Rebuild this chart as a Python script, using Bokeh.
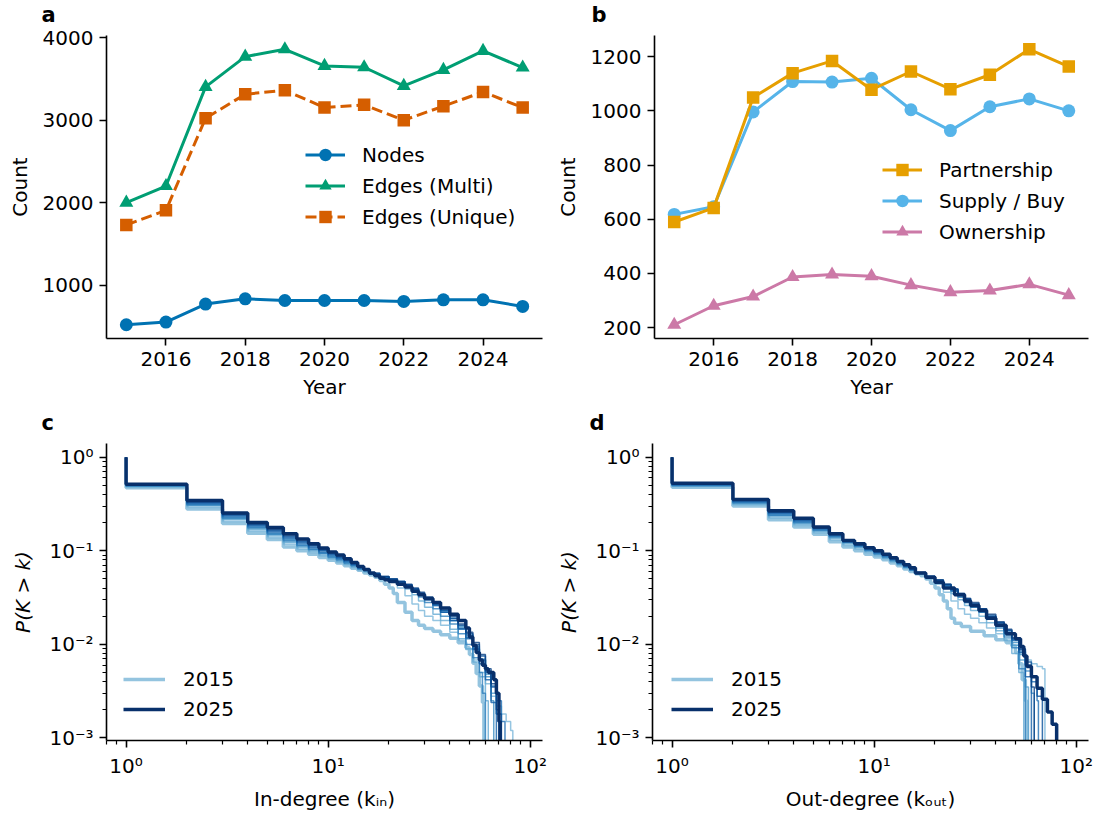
from bokeh.plotting import figure
from bokeh.models import Range1d, FixedTicker, Legend, LegendItem, Title
from bokeh.layouts import column, row
from bokeh.embed import file_html
from bokeh.resources import INLINE

FONT = "DejaVu Sans"

# ---------------- data: panels a, b ----------------
YEARS = [2015, 2016, 2017, 2018, 2019, 2020, 2021, 2022, 2023, 2024, 2025]
NODES = [520, 552, 770, 834, 814, 814, 814, 802, 822, 822, 742]
EDGES_MULTI = [2000, 2202, 3404, 3771, 3860, 3658, 3642, 3416, 3610, 3840, 3638]
EDGES_UNIQUE = [1730, 1907, 3024, 3315, 3363, 3153, 3186, 3000, 3170, 3343, 3153]
PARTNERSHIP = [590, 642, 1049, 1139, 1184, 1078, 1145, 1080, 1133, 1227, 1163]
SUPPLY_BUY = [618, 646, 996, 1108, 1106, 1120, 1004, 927, 1015, 1044, 1000]
OWNERSHIP = [211, 281, 315, 387, 396, 390, 357, 331, 337, 360, 320]
YEAR_TICKS = [2016, 2018, 2020, 2022, 2024]
A_TICKS = [1000, 2000, 3000, 4000]
B_TICKS = [200, 400, 600, 800, 1000, 1200]

# ---------------- data: panels c, d (CCDF step levels) ----------------
K_LOW = [1, 2, 3, 4, 5, 6, 7, 8, 9, 10, 11, 12, 13, 14, 15]
# levels P(K>k) over [k, k+1] for k = 1..14
IN_LOW_2015 = [.470, .280, .196, .154, .132, .110, .100, .092, .085, .079, .074, .069, .065, .062]
IN_LOW_2016 = [.478, .290, .205, .162, .138, .117, .104, .095, .088, .081, .076, .071, .066, .062]
IN_LOW_2017 = [.486, .300, .214, .168, .144, .122, .108, .099, .090, .083, .077, .072, .067, .063]
IN_LOW_2018 = [.490, .306, .220, .173, .148, .126, .112, .102, .093, .085, .079, .074, .069, .064]
IN_LOW_2019 = [.495, .312, .226, .178, .152, .131, .115, .104, .095, .087, .081, .075, .070, .065]
IN_LOW_2020 = [.492, .310, .224, .176, .151, .129, .114, .103, .094, .086, .080, .074, .069, .064]
IN_LOW_2021 = [.500, .318, .232, .183, .157, .135, .119, .107, .097, .089, .083, .077, .071, .066]
IN_LOW_2022 = [.503, .324, .238, .187, .162, .139, .123, .110, .100, .091, .084, .078, .072, .066]
IN_LOW_2023 = [.506, .330, .242, .191, .166, .143, .126, .113, .102, .093, .086, .079, .073, .067]
IN_LOW_2024 = [.509, .336, .247, .195, .170, .147, .130, .116, .104, .095, .088, .081, .074, .067]
IN_LOW_2025 = [.514, .344, .254, .201, .177, .152, .134, .119, .107, .097, .090, .082, .075, .068]

IN_TK_2015 = [16, 17, 18, 19, 20, 21, 22, 24, 26, 28, 30, 33, 36, 40, 44, 48, 50, 52, 54, 56, 58, 59, 59]
IN_TP_2015 = [.058, .055, .052, .048, .044, .040, .035, .028, .022, .018, .016, .0148, .0138, .0127, .0116, .0104, .0092, .0078, .0063, .0049, .0036, .0024, 0]
IN_TK_2016 = [16, 17, 18, 20, 22, 24, 26, 28, 30, 33, 36, 40, 44, 48, 52, 56, 60, 64, 68, 72, 76, 80, 82, 82]
IN_TP_2016 = [.059, .057, .055, .052, .047, .040, .033, .027, .023, .020, .018, .016, .0135, .011, .0088, .0068, .0050, .0038, .0028, .0022, .0018, .0015, .0012, 0]
IN_TK_2017 = [16, 18, 20, 22, 24, 26, 28, 30, 33, 36, 40, 44, 48, 52, 56, 60, 62, 62]
IN_TP_2017 = [.060, .056, .052, .048, .044, .039, .034, .029, .025, .021, .018, .0145, .0115, .009, .0065, .0045, .0025, 0]
IN_TK_2018 = [16, 18, 20, 22, 24, 26, 28, 30, 33, 36, 40, 44, 48, 52, 56, 60, 64, 68, 70, 70]
IN_TP_2018 = [.061, .057, .052, .049, .046, .042, .038, .034, .030, .026, .022, .018, .015, .012, .0092, .0068, .0048, .0030, .0018, 0]
IN_TK_2019 = [16, 18, 20, 22, 24, 26, 28, 30, 33, 36, 40, 44, 48, 52, 56, 60, 64, 66, 66]
IN_TP_2019 = [.062, .057, .052, .050, .047, .043, .039, .035, .031, .027, .023, .019, .0155, .0125, .0095, .0070, .0045, .0025, 0]
IN_TK_2020 = [16, 18, 20, 22, 24, 26, 28, 30, 33, 36, 40, 44, 48, 52, 56, 58, 60, 60]
IN_TP_2020 = [.061, .056, .051, .048, .045, .041, .036, .032, .028, .024, .020, .0165, .013, .010, .0072, .005, .003, 0]
IN_TK_2021 = [16, 18, 20, 22, 24, 26, 28, 30, 33, 36, 40, 44, 48, 52, 56, 60, 64, 68, 72, 75, 75]
IN_TP_2021 = [.062, .057, .052, .049, .046, .043, .039, .035, .031, .027, .022, .018, .0145, .0115, .009, .0068, .0050, .0036, .0025, .0015, 0]
IN_TK_2022 = [16, 18, 20, 22, 24, 26, 28, 30, 33, 36, 40, 44, 48, 52, 56, 60, 64, 68, 68]
IN_TP_2022 = [.062, .057, .052, .049, .046, .042, .038, .034, .030, .026, .022, .018, .0148, .0118, .0088, .0062, .0042, .0024, 0]
IN_TK_2023 = [16, 18, 20, 22, 24, 26, 28, 30, 33, 36, 40, 44, 48, 52, 56, 60, 64, 68, 72, 72]
IN_TP_2023 = [.062, .057, .053, .050, .047, .043, .039, .035, .031, .027, .023, .019, .016, .013, .010, .0075, .0052, .0035, .0018, 0]
IN_TK_2024 = [16, 18, 20, 22, 24, 26, 28, 30, 33, 36, 40, 44, 48, 52, 56, 60, 64, 68, 70, 70]
IN_TP_2024 = [.063, .058, .053, .050, .047, .044, .040, .036, .032, .028, .024, .020, .0165, .0135, .0105, .0078, .0055, .0038, .002, 0]
IN_TK_2025 = [16, 17, 18, 19, 20, 22, 24, 26, 28, 30, 33, 36, 40, 44, 48, 50, 52, 54, 56, 58, 60, 62, 66, 68, 70, 71, 71]
IN_TP_2025 = [.063, .058, .054, .051, .049, .047, .044, .041, .037, .034, .031, .028, .0245, .021, .018, .015, .012, .0098, .0082, .0068, .0060, .0055, .0050, .0042, .0030, .0015, 0]

OUT_LOW_2015 = [.478, .300, .215, .180, .150, .125, .110, .100, .092, .086, .080, .074, .069, .064]
OUT_LOW_2016 = [.485, .308, .222, .186, .155, .130, .114, .104, .095, .088, .082, .076, .070, .065]
OUT_LOW_2017 = [.490, .315, .230, .192, .160, .135, .118, .107, .098, .090, .083, .077, .071, .066]
OUT_LOW_2018 = [.495, .322, .236, .197, .164, .139, .121, .110, .100, .092, .085, .078, .072, .067]
OUT_LOW_2019 = [.500, .328, .242, .202, .168, .142, .124, .112, .102, .094, .087, .080, .073, .068]
OUT_LOW_2020 = [.498, .326, .240, .200, .166, .141, .123, .111, .101, .093, .086, .079, .073, .067]
OUT_LOW_2021 = [.506, .334, .248, .207, .171, .145, .125, .114, .103, .095, .088, .081, .074, .068]
OUT_LOW_2022 = [.510, .340, .253, .211, .173, .147, .126, .115, .105, .097, .089, .082, .075, .069]
OUT_LOW_2023 = [.515, .344, .258, .215, .175, .149, .127, .116, .106, .098, .090, .083, .076, .070]
OUT_LOW_2024 = [.520, .348, .262, .218, .177, .150, .128, .117, .107, .099, .091, .083, .076, .070]
OUT_LOW_2025 = [.527, .353, .267, .222, .179, .152, .129, .119, .108, .100, .092, .084, .077, .071]

OUT_TK_2015 = [16, 17, 18, 19, 20, 21, 22, 23, 24, 25, 27, 30, 35, 40, 45, 48, 50, 52, 54, 56, 57, 57]
OUT_TP_2015 = [.060, .057, .054, .050, .045, .040, .034, .029, .024, .019, .0168, .0155, .0138, .0124, .0112, .0104, .0096, .0082, .0062, .0042, .0025, 0]
OUT_TK_2016 = [16, 18, 20, 22, 24, 26, 28, 30, 33, 36, 40, 44, 48, 52, 56, 60, 64, 68, 70, 70]
OUT_TP_2016 = [.061, .056, .050, .044, .036, .029, .024, .021, .019, .017, .015, .013, .0115, .0098, .0082, .0068, .0062, .0058, .0055, 0]
OUT_TK_2017 = [16, 18, 20, 22, 24, 26, 28, 30, 33, 36, 40, 44, 48, 52, 55, 55]
OUT_TP_2017 = [.062, .057, .051, .046, .040, .035, .030, .026, .023, .020, .017, .014, .011, .008, .005, 0]
OUT_TK_2018 = [16, 18, 20, 22, 24, 26, 28, 30, 33, 36, 40, 44, 48, 52, 56, 58, 58]
OUT_TP_2018 = [.062, .057, .052, .047, .042, .037, .032, .028, .025, .022, .0185, .0155, .0125, .0098, .0068, .0035, 0]
OUT_TK_2019 = [16, 18, 20, 22, 24, 26, 28, 30, 33, 36, 40, 44, 48, 52, 56, 60, 62, 62]
OUT_TP_2019 = [.063, .058, .053, .048, .043, .038, .033, .029, .026, .023, .019, .016, .013, .0105, .0078, .0052, .003, 0]
OUT_TK_2020 = [16, 18, 20, 22, 24, 26, 28, 30, 33, 36, 40, 44, 48, 52, 56, 56]
OUT_TP_2020 = [.062, .057, .052, .047, .042, .037, .032, .028, .025, .022, .0185, .015, .012, .0092, .0055, 0]
OUT_TK_2021 = [16, 18, 20, 22, 24, 26, 28, 30, 33, 36, 40, 44, 48, 52, 56, 60, 64, 65, 65]
OUT_TP_2021 = [.063, .058, .053, .048, .043, .038, .034, .030, .026, .023, .020, .0165, .0135, .011, .0085, .006, .004, .0025, 0]
OUT_TK_2022 = [16, 18, 20, 22, 24, 26, 28, 30, 33, 36, 40, 44, 48, 52, 56, 60, 60]
OUT_TP_2022 = [.064, .058, .053, .048, .043, .038, .034, .030, .027, .023, .020, .017, .014, .0112, .0082, .0045, 0]
OUT_TK_2023 = [16, 18, 20, 22, 24, 26, 28, 30, 33, 36, 40, 44, 48, 52, 56, 60, 64, 68, 68]
OUT_TP_2023 = [.064, .058, .053, .048, .044, .039, .035, .031, .027, .024, .020, .017, .0142, .0115, .0088, .0065, .0045, .0028, 0]
OUT_TK_2024 = [16, 18, 20, 22, 24, 26, 28, 30, 33, 36, 40, 44, 48, 52, 56, 60, 62, 62]
OUT_TP_2024 = [.065, .059, .053, .049, .044, .039, .035, .031, .028, .024, .021, .0175, .0145, .0118, .009, .006, .0035, 0]
OUT_TK_2025 = [16, 18, 20, 22, 25, 28, 30, 33, 36, 40, 45, 50, 53, 55, 57, 60, 64, 68, 72, 76, 80, 80]
OUT_TP_2025 = [.066, .058, .052, .046, .040, .034, .029, .026, .023, .019, .016, .013, .0115, .0095, .0075, .0058, .0045, .0034, .0026, .0019, .0014, 0]

IN_LOW = [IN_LOW_2015, IN_LOW_2016, IN_LOW_2017, IN_LOW_2018, IN_LOW_2019, IN_LOW_2020,
          IN_LOW_2021, IN_LOW_2022, IN_LOW_2023, IN_LOW_2024, IN_LOW_2025]
IN_TK = [IN_TK_2015, IN_TK_2016, IN_TK_2017, IN_TK_2018, IN_TK_2019, IN_TK_2020,
         IN_TK_2021, IN_TK_2022, IN_TK_2023, IN_TK_2024, IN_TK_2025]
IN_TP = [IN_TP_2015, IN_TP_2016, IN_TP_2017, IN_TP_2018, IN_TP_2019, IN_TP_2020,
         IN_TP_2021, IN_TP_2022, IN_TP_2023, IN_TP_2024, IN_TP_2025]
OUT_LOW = [OUT_LOW_2015, OUT_LOW_2016, OUT_LOW_2017, OUT_LOW_2018, OUT_LOW_2019, OUT_LOW_2020,
           OUT_LOW_2021, OUT_LOW_2022, OUT_LOW_2023, OUT_LOW_2024, OUT_LOW_2025]
OUT_TK = [OUT_TK_2015, OUT_TK_2016, OUT_TK_2017, OUT_TK_2018, OUT_TK_2019, OUT_TK_2020,
          OUT_TK_2021, OUT_TK_2022, OUT_TK_2023, OUT_TK_2024, OUT_TK_2025]
OUT_TP = [OUT_TP_2015, OUT_TP_2016, OUT_TP_2017, OUT_TP_2018, OUT_TP_2019, OUT_TP_2020,
          OUT_TP_2021, OUT_TP_2022, OUT_TP_2023, OUT_TP_2024, OUT_TP_2025]

# ---------------- styling ----------------
C_NODES, C_MULTI, C_UNIQUE = "#0072B2", "#009E73", "#D55E00"
C_PART, C_SUPPLY, C_OWN = "#E69F00", "#56B4E9", "#CC79A7"

BLUES_STOPS = [(0.375, (158, 202, 225)), (0.5, (107, 174, 214)), (0.625, (66, 146, 198)),
               (0.75, (33, 113, 181)), (0.875, (8, 81, 156)), (1.0, (8, 48, 107))]


def blues(t):
    for (t0, c0), (t1, c1) in zip(BLUES_STOPS[:-1], BLUES_STOPS[1:]):
        if t0 <= t <= t1:
            f = (t - t0) / (t1 - t0)
            c = [round(a + (b - a) * f) for a, b in zip(c0, c1)]
            return "#%02x%02x%02x" % tuple(c)
    return "#08306b"


def style(p, tag, tag_offset, log=False):
    p.outline_line_color = None
    p.grid.visible = False
    p.background_fill_color = "white"
    p.border_fill_color = "white"
    for ax in p.axis:
        ax.axis_line_width = 1.6
        ax.axis_line_color = "black"
        ax.major_tick_line_width = 1.6
        ax.major_tick_line_color = "black"
        ax.major_tick_out = 7
        ax.major_tick_in = 0
        ax.minor_tick_out = 4
        ax.minor_tick_in = 0
        ax.minor_tick_line_width = 1.2
        ax.minor_tick_line_color = "black" if log else None
        ax.major_label_text_font = FONT
        ax.major_label_text_font_size = "20px"
        ax.major_label_text_color = "black"
        ax.axis_label_text_font = FONT
        ax.axis_label_text_font_size = "20px"
        ax.axis_label_text_font_style = "normal"
        ax.axis_label_text_color = "black"
    p.yaxis.major_label_standoff = 6
    p.xaxis.major_label_standoff = 6
    p.xaxis.axis_label_standoff = 6
    p.yaxis.axis_label_standoff = 11 if log else 8
    # small spacer between the frame and the panel letter
    p.add_layout(Title(text=" ", text_font_size="1px", standoff=6), "above")
    p.title.text = tag
    p.title.align = "left"
    p.title.offset = tag_offset
    p.title.standoff = 0
    p.title.text_font = FONT
    p.title.text_font_size = "21px"
    p.title.text_font_style = "bold"
    p.title.text_color = "black"


def legend(p, items, x, y, glyph_w=40, glyph_h=31, standoff=17, spacing=0):
    lg = Legend(items=items, location=(x, y), border_line_color=None,
                background_fill_alpha=0, padding=0, margin=0,
                glyph_width=glyph_w, glyph_height=glyph_h, label_height=glyph_h,
                label_standoff=standoff, spacing=spacing,
                label_text_font=FONT, label_text_font_size="20px",
                label_text_color="black")
    p.add_layout(lg)


def padded(vals):
    lo, hi = min(vals), max(vals)
    pad = 0.05 * (hi - lo)
    return Range1d(lo - pad, hi + pad)


# ---------------- panel a ----------------
pa = figure(width=552, height=404, min_border_left=106, min_border_right=10,
            min_border_top=33, min_border_bottom=66,
            x_range=Range1d(2014.5, 2025.5), y_range=padded(NODES + EDGES_MULTI + EDGES_UNIQUE),
            output_backend="svg", toolbar_location=None)
style(pa, "a", -65)
pa.xaxis.ticker = FixedTicker(ticks=YEAR_TICKS)
pa.yaxis.ticker = FixedTicker(ticks=A_TICKS)
pa.xaxis.axis_label = "Year"
pa.yaxis.axis_label = "Count"
ra1 = pa.line(YEARS, NODES, line_color=C_NODES, line_width=3)
ra2 = pa.scatter(YEARS, NODES, marker="circle", size=13, fill_color=C_NODES, line_color=None)
rb1 = pa.line(YEARS, EDGES_MULTI, line_color=C_MULTI, line_width=3)
rb2 = pa.scatter(YEARS, EDGES_MULTI, marker="triangle", size=14, fill_color=C_MULTI, line_color=None)
rc1 = pa.line(YEARS, EDGES_UNIQUE, line_color=C_UNIQUE, line_width=3, line_dash="11 5")
rc2 = pa.scatter(YEARS, EDGES_UNIQUE, marker="square", size=12.5, fill_color=C_UNIQUE, line_color=None)
legend(pa, [LegendItem(label="Nodes", renderers=[ra1, ra2]),
            LegendItem(label="Edges (Multi)", renderers=[rb1, rb2]),
            LegendItem(label="Edges (Unique)", renderers=[rc1, rc2])], 199, 106)

# ---------------- panel b ----------------
pb = figure(width=544, height=404, min_border_left=100, min_border_right=8,
            min_border_top=33, min_border_bottom=66,
            x_range=Range1d(2014.5, 2025.5), y_range=padded(PARTNERSHIP + SUPPLY_BUY + OWNERSHIP),
            output_backend="svg", toolbar_location=None)
style(pb, "b", -63)
pb.xaxis.ticker = FixedTicker(ticks=YEAR_TICKS)
pb.yaxis.ticker = FixedTicker(ticks=B_TICKS)
pb.xaxis.axis_label = "Year"
pb.yaxis.axis_label = "Count"
t1 = pb.line(YEARS, SUPPLY_BUY, line_color=C_SUPPLY, line_width=3)
t2 = pb.scatter(YEARS, SUPPLY_BUY, marker="circle", size=13, fill_color=C_SUPPLY, line_color=None)
u1 = pb.line(YEARS, OWNERSHIP, line_color=C_OWN, line_width=3)
u2 = pb.scatter(YEARS, OWNERSHIP, marker="triangle", size=14, fill_color=C_OWN, line_color=None)
s1 = pb.line(YEARS, PARTNERSHIP, line_color=C_PART, line_width=3)
s2 = pb.scatter(YEARS, PARTNERSHIP, marker="square", size=12.5, fill_color=C_PART, line_color=None)
legend(pb, [LegendItem(label="Partnership", renderers=[s1, s2]),
            LegendItem(label="Supply / Buy", renderers=[t1, t2]),
            LegendItem(label="Ownership", renderers=[u1, u2])], 228, 91)

# ---------------- panels c, d ----------------
SUP = {1: "10\u2070", 10: "10\u00b9", 100: "10\u00b2",
       0.1: "10\u207b\u00b9", 0.01: "10\u207b\u00b2", 0.001: "10\u207b\u00b3"}
MINOR = [m * 10.0 ** e for e in range(-4, 3) for m in range(2, 10)]


def ccdf_panel(low_list, tk_list, tp_list, left_border, right_border, xlabel, tag, tag_x, leg_x):
    p = figure(width=left_border + 436 + right_border, height=409,
               min_border_left=left_border, min_border_right=right_border,
               min_border_top=39, min_border_bottom=66,
               x_axis_type="log", y_axis_type="log",
               x_range=Range1d(0.8, 115), y_range=Range1d(9.4e-4, 1.4),
               output_backend="svg", toolbar_location=None)
    style(p, tag, tag_x, log=True)
    p.xaxis.ticker = FixedTicker(ticks=[1, 10, 100], minor_ticks=MINOR)
    p.yaxis.ticker = FixedTicker(ticks=[0.001, 0.01, 0.1, 1], minor_ticks=MINOR)
    p.xaxis.major_label_overrides = {1: SUP[1], 10: SUP[10], 100: SUP[100]}
    p.yaxis.major_label_overrides = {1: SUP[1], 0.1: SUP[0.1], 0.01: SUP[0.01], 0.001: SUP[0.001]}
    p.xaxis.axis_label = xlabel
    p.yaxis.axis_label = "P(K > k)"
    p.yaxis.axis_label_text_font_style = "italic"
    n = len(YEARS)
    rend = {}
    for i, yr in enumerate(YEARS):
        xs = K_LOW + tk_list[i]
        ys = [1.0] + low_list[i] + tp_list[i]
        ys = [v if v > 0 else 1e-7 for v in ys]
        thick = yr in (YEARS[0], YEARS[-1])
        r = p.step(xs, ys, mode="before", line_color=blues(0.40 + 0.6 * i / (n - 1)),
                   line_width=3.5 if thick else 1.5, line_alpha=1.0 if thick else 0.8)
        rend[yr] = r
    legend(p, [LegendItem(label=str(YEARS[0]), renderers=[rend[YEARS[0]]]),
               LegendItem(label=str(YEARS[-1]), renderers=[rend[YEARS[-1]]])],
           leg_x, 19, glyph_w=42, glyph_h=24, standoff=18, spacing=6)
    return p


pc = ccdf_panel(IN_LOW, IN_TK, IN_TP, 106, 10, "In-degree (k\u1d62\u2099)", "c", -65, 17)
pd_ = ccdf_panel(OUT_LOW, OUT_TK, OUT_TP, 100, 8, "Out-degree (k\u2092\u1d64\u209c)", "d", -63, 19)

layout = column(row(pa, pb), row(pc, pd_))
open("out.html", "w").write(file_html(layout, INLINE))
